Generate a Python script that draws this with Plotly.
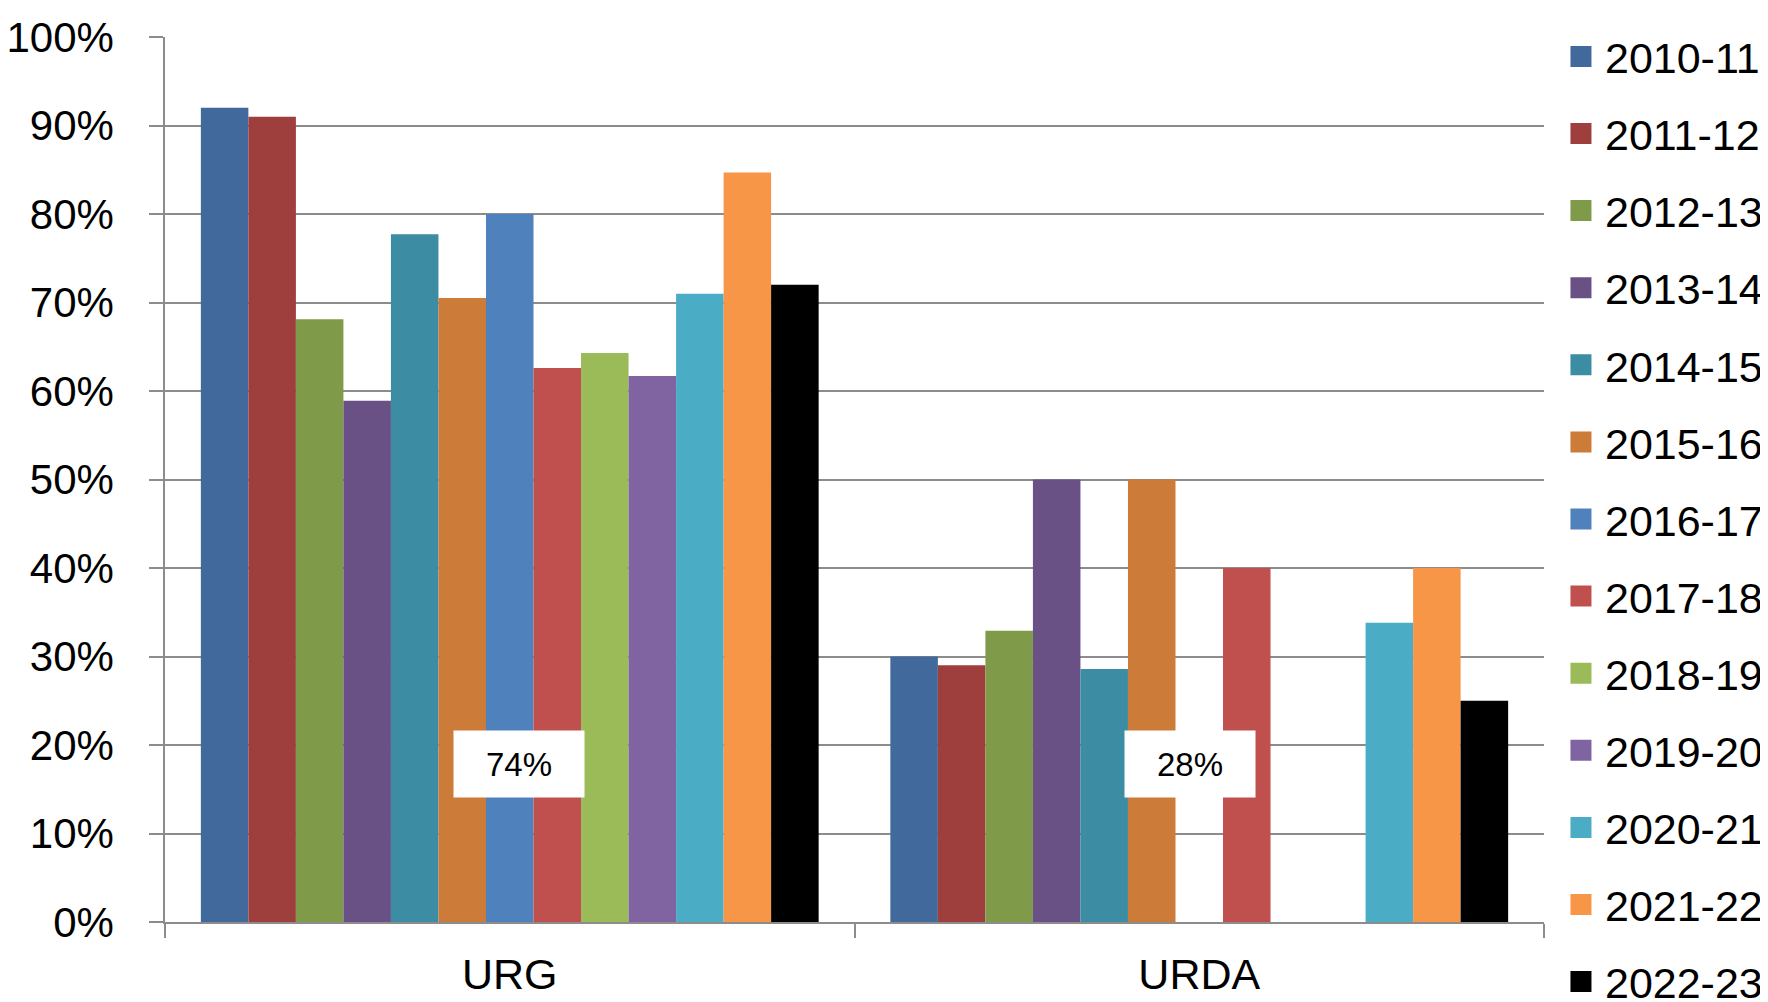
import plotly.graph_objects as go

categories = ["URG", "URDA"]
years = ["2010-11", "2011-12", "2012-13", "2013-14", "2014-15", "2015-16", "2016-17",
         "2017-18", "2018-19", "2019-20", "2020-21", "2021-22", "2022-23"]
urg = [0.92, 0.91, 0.681, 0.589, 0.777, 0.705, 0.80, 0.626, 0.643, 0.617, 0.71, 0.847, 0.72]
urda = [0.30, 0.29, 0.329, 0.50, 0.286, 0.50, None, 0.40, None, None, 0.338, 0.40, 0.25]
colors = ["#41699B", "#9E3F3E", "#7F9A48", "#695185", "#3C8DA3", "#CC7B38", "#4F81BD",
          "#C0504D", "#9BBB59", "#8064A2", "#4BACC6", "#F79646", "#000000"]
avg_labels = ["74%", "28%"]
avg_pos = [0.013, 0.987]
avg_y = [0.179, 0.179]
yticks = [i / 10 for i in range(11)]

FONT = "Liberation Sans"
GRID = "#8C8C8C"

fig = go.Figure()
for i, yr in enumerate(years):
    fig.add_trace(go.Bar(
        x=categories, y=[urg[i], urda[i]], name=yr,
        marker=dict(color=colors[i], line=dict(width=0)),
        showlegend=False,
    ))
for i, yr in enumerate(years):
    fig.add_trace(go.Scatter(
        x=[None], y=[None], mode="markers", name=yr, legendgroup=yr,
        marker=dict(symbol="square", size=16, color=colors[i],
                    line=dict(color=colors[i], width=5)),
        showlegend=True,
    ))

for lab, xp, yp in zip(avg_labels, avg_pos, avg_y):
    fig.add_annotation(x=xp, y=yp, xref="x", yref="y", text=lab, showarrow=False,
                       bgcolor="white", width=128, height=64,
                       font=dict(family=FONT, size=33, color="black"))

fig.update_layout(
    width=1768, height=1002,
    paper_bgcolor="white", plot_bgcolor="white",
    margin=dict(l=157, r=232, t=29, b=88, autoexpand=False),
    barmode="group", bargap=0.104, bargroupgap=0,
    font=dict(family=FONT, color="black"),
    showlegend=True,
    legend=dict(x=1.0094, xanchor="left", y=1.017, yanchor="top",
                font=dict(family=FONT, size=43, color="black"), itemwidth=38,
                tracegroupgap=18.2, maxheight=2000, bgcolor="rgba(0,0,0,0)"),
    xaxis=dict(type="category", showgrid=False, showline=True, linecolor=GRID, linewidth=1.5,
               ticks="outside", tickson="boundaries", ticklen=14, tickcolor=GRID, tickwidth=1.5,
               tickfont=dict(family=FONT, size=43, color="black"), ticklabelstandoff=14,
               automargin=False, range=[-0.5, 1.5]),
    yaxis=dict(range=[0, 1], tickvals=yticks, tickformat=".0%", showgrid=True, gridcolor=GRID,
               gridwidth=1.5, zeroline=False, showline=True, linecolor=GRID, linewidth=1.5,
               ticks="outside", ticklen=14, tickcolor=GRID, tickwidth=1.5, automargin=False,
               tickfont=dict(family=FONT, size=42, color="black"), ticklabelstandoff=27),
)

fig.write_html("out.html")
